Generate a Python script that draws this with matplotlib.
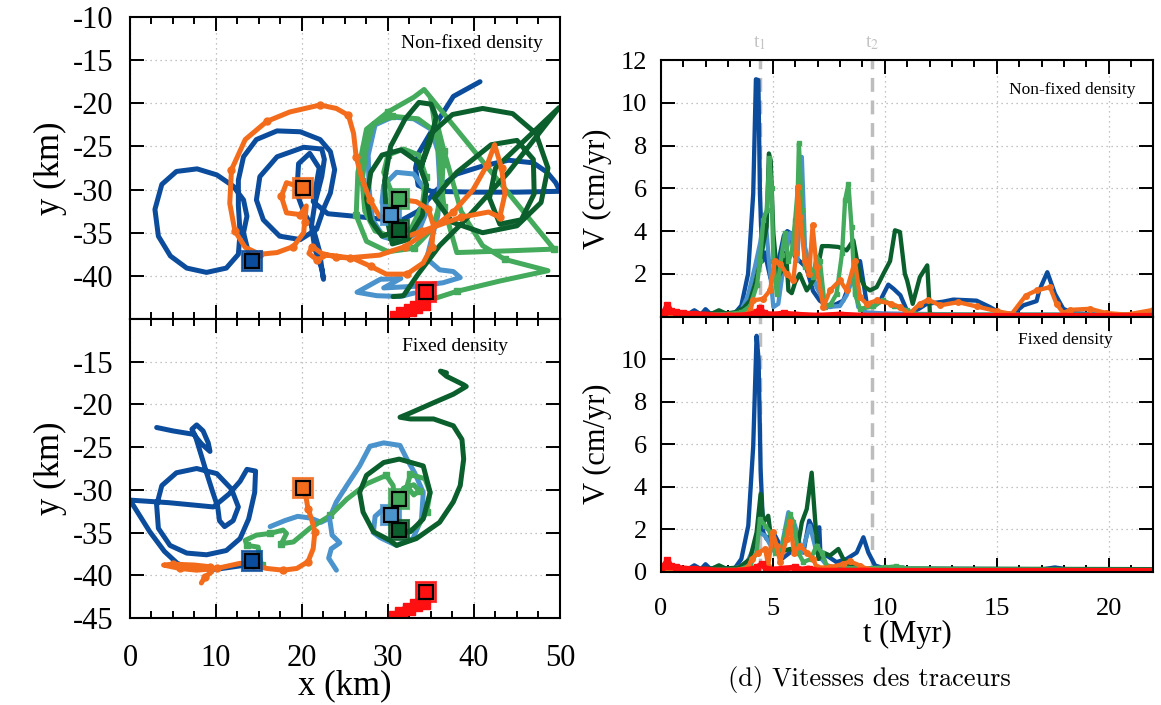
import matplotlib as mpl
import matplotlib.pyplot as plt
import numpy as np
from matplotlib.ticker import MultipleLocator, FixedLocator

mpl.rc('font', family='Liberation Serif', size=14)
mpl.rc('axes', unicode_minus=False)

# colours of the six tracers
c_db = '#0b4c9c'   # dark blue
c_lb = '#4a93cc'   # light blue
c_dg = '#0b5f2c'   # dark green
c_mg = '#44aa5c'   # medium green
c_or = '#f36c1c'   # orange
c_rd = '#ff1010'   # red

# initial positions (km)
start_x = [14.15, 30.3, 31.3, 31.3, 20.1, 34.4]
start_y = [-38.3, -32.9, -34.7, -31.1, -29.8, -41.9]
start_c = [c_db, c_lb, c_dg, c_mg, c_or, c_rd]

# ---- trajectories, non-fixed density ----
db_top = [(14.1,-38.3),(13.6,-36.6),(13.2,-35.0),(13.6,-33.1),(13.2,-31.2),(12.0,-29.6),(10.1,-28.3),(7.8,-27.6),
          (5.4,-27.9),(3.7,-29.4),(2.9,-32.3),(3.3,-35.4),(4.7,-37.7),(6.6,-39.1),(8.9,-39.6),(11.2,-39.1),
          (12.6,-37.5),(12.8,-35.0),(12.6,-31.9),(12.6,-28.9),(13.2,-26.2),(14.7,-24.2),(17.1,-23.2),(19.8,-23.3),
          (22.1,-24.2),(23.3,-25.6),(23.8,-27.7),(23.3,-30.4),(22.6,-32.0),(21.7,-34.6),(19.8,-35.8),(17.4,-35.4),
          (15.5,-33.5),(14.7,-31.2),(15.1,-28.5),(17.1,-26.2),(20.2,-25.1),(22.3,-25.3),(22.6,-26.5),(22.3,-28.5),
          (21.5,-31.6),(21.1,-34.2),(21.5,-36.9),(22.3,-39.2),(22.5,-40.4),(22.0,-37.0),(21.3,-34.5),(20.2,-32.6),
          (19.4,-30.4),(19.6,-27.0),(20.9,-25.8),(22.0,-27.5),(21.3,-31.4),(23.0,-32.8),(26.2,-33.1),(29.0,-33.4),
          (31.5,-33.6),(33.5,-32.5),(35.7,-30.0),(38.0,-28.2),(40.9,-27.3),(44.0,-26.6),(46.9,-26.9),(48.5,-28.0),
          (49.5,-29.2),(50.0,-30.2),(45.0,-30.3),(40.0,-30.3),(35.0,-30.2),(33.5,-29.5),(33.2,-27.5),(33.6,-25.7),
          (35.2,-23.0),(37.6,-19.2),(40.7,-17.5)]
or_top = [(20.1,-29.8),(18.2,-29.2),(17.6,-30.8),(18.2,-32.7),(19.8,-32.9),(20.5,-31.9),(20.3,-33.8),(20.2,-35.0),
          (19.0,-36.6),(17.1,-37.3),(15.1,-37.5),(13.4,-36.7),(12.2,-34.8),(11.6,-31.6),(11.8,-27.7),(13.4,-24.2),
          (15.9,-22.1),(18.6,-21.0),(22.1,-20.2),(24.0,-20.6),(25.4,-21.4),(26.0,-23.5),(26.3,-26.2),(26.9,-28.5),
          (27.9,-31.2),(29.0,-33.1),(30.2,-33.4),(30.8,-32.0),(31.8,-31.2),(33.3,-31.4),(34.7,-32.3),(35.3,-34.2),
          (35.1,-36.6),(34.1,-38.5),(32.2,-39.8),(29.8,-39.8),(28.0,-38.9),(26.0,-38.0),(24.0,-37.8),(22.3,-37.4),
          (21.2,-36.6),(20.8,-37.4),(21.8,-38.2),(22.8,-37.6),(25.6,-37.9),(29.0,-37.6),(32.0,-36.6),(35.0,-34.6),
          (37.6,-32.6),(39.9,-30.0),(41.5,-27.2),(42.4,-24.8),(43.2,-27.5),(43.6,-30.5),(43.0,-33.2),(41.7,-32.6),
          (38.5,-33.2),(35.7,-34.2),(34.0,-34.8),(32.6,-35.3)]
mg_top = [(31.3,-31.1),(30.3,-30.0),(29.5,-28.0),(30.0,-26.0),(31.8,-25.3),(33.6,-26.0),(34.4,-28.5),(34.0,-31.8),
          (32.7,-34.5),(30.5,-35.5),(28.5,-34.8),(27.3,-32.5),(27.0,-29.0),(27.5,-25.0),(28.3,-22.4),(30.5,-21.5),
          (33.5,-21.8),(35.8,-23.5),(36.4,-27.0),(36.2,-31.0),(35.2,-34.5),(33.0,-36.8),(30.0,-37.2),(27.5,-36.0),
          (26.3,-33.0),(26.5,-28.0),(27.5,-23.0),(30.0,-21.0),(33.0,-19.3),(34.2,-18.4),(49.3,-36.9),(44.0,-37.1),
          (38.0,-37.3),(36.5,-32.0),(35.8,-25.0),(35.0,-19.5),(36.5,-25.5),(38.5,-32.5),(41.0,-36.5),(43.6,-38.1),
          (48.6,-39.4),(43.0,-40.6),(38.0,-41.8),(35.5,-42.6),(34.8,-42.4)]
dg_top = [(31.3,-34.7),(29.3,-35.4),(28.0,-33.6),(27.5,-31.0),(28.0,-28.0),(29.3,-26.0),(31.5,-25.4),(33.5,-26.8),
          (34.5,-29.5),(34.0,-33.0),(32.3,-35.8),(30.5,-36.3),(29.8,-33.0),(29.6,-29.0),(30.3,-25.0),(32.0,-21.8),
          (33.6,-19.9),(35.0,-20.1),(35.6,-21.6),(34.9,-24.5),(33.8,-27.5),(35.0,-23.5),(37.5,-21.3),(41.0,-20.6),
          (44.5,-21.2),(47.2,-23.5),(48.6,-27.5),(47.8,-31.5),(45.0,-34.2),(41.0,-35.0),(37.5,-33.8),(35.4,-31.0),
          (38.0,-28.0),(42.0,-24.8),(45.0,-24.3),(46.9,-26.5),(47.0,-30.5),(45.5,-33.5),(43.0,-34.0),(41.8,-31.0),
          (42.5,-27.5),(49.9,-20.5),(44.0,-28.0),(39.0,-33.5),(36.0,-36.5),(33.5,-39.8),(31.8,-42.3),(30.6,-42.4)]
lb_top = [(30.3,-32.9),(29.3,-31.5),(29.5,-29.5),(31.0,-28.0),(33.0,-28.2),(34.3,-30.0),(34.5,-32.5),(33.5,-35.0),
          (31.5,-36.0),(29.5,-35.5),(28.2,-33.5),(27.8,-30.0),(27.7,-26.0),(28.5,-22.5),(30.5,-21.6),(33.0,-21.8),
          (35.0,-23.0),(35.8,-25.5),(36.0,-29.0),(35.8,-33.0),(35.0,-36.0),(34.5,-38.0),(36.0,-39.3),(37.6,-39.5),
          (38.4,-40.2),(36.4,-40.8),(33.3,-41.2),(29.5,-41.4),(31.5,-40.3),(29.1,-40.4),(26.4,-41.9),(28.7,-42.3),
          (31.4,-42.4),(33.0,-42.0)]
rd_top = [(34.4,-41.9),(34.2,-43.3),(33.2,-43.6),(32.6,-44.0),(31.6,-44.3),(30.9,-44.8)]

# ---- trajectories, fixed density ----
db_bot = [(14.15,-38.3),(12.8,-38.9),(10.0,-39.3),(7.0,-39.2),(5.5,-38.6),(4.0,-37.2),(2.3,-34.9),(0.0,-31.2),
          (4.5,-31.5),(9.7,-32.0),(11.5,-30.5),(12.8,-29.0),(13.6,-27.6),(14.6,-27.8),(14.5,-30.3),(13.8,-33.4),
          (12.8,-35.7),(11.2,-37.1),(8.9,-37.6),(6.6,-37.4),(4.65,-36.5),(3.3,-34.5),(3.1,-31.8),(3.7,-29.5),
          (5.4,-28.0),(7.75,-27.5),(10.1,-28.1),(11.8,-29.9),(12.6,-32.0),(12.0,-33.6),(11.0,-34.3),(10.4,-33.6),
          (10.2,-32.0),(9.6,-30.2),(8.9,-28.0),(8.3,-26.0),(7.6,-23.7),(7.2,-22.9),(7.75,-22.4),(8.5,-23.1),
          (9.1,-24.5),(9.3,-25.5),(8.3,-24.6),(7.4,-23.5),(5.0,-23.1),(3.1,-22.7)]
or_bot = [(20.1,-29.8),(20.5,-31.05),(20.7,-32.2),(21.1,-33.4),(21.5,-34.9),(21.3,-36.9),(20.7,-38.4),(19.4,-39.2),
          (17.8,-39.4),(15.9,-39.2),(14.3,-38.8),(12.8,-38.6),(10.1,-39.2),(7.75,-39.4),(5.8,-39.2),(3.9,-38.8),
          (5.0,-38.7),(7.5,-38.8),(9.3,-39.0),(9.5,-39.6),(8.7,-40.2),(8.3,-40.9)]
mg_bot = [(31.3,-31.1),(31.8,-29.8),(33.0,-29.4),(33.6,-30.1),(33.0,-30.6),(32.2,-29.6),(32.6,-28.2),(34.3,-28.7),
          (34.9,-30.3),(34.5,-32.6),(33.5,-34.2),(32.2,-35.0),(31.2,-34.4),(30.8,-32.0),(30.6,-29.5),(29.8,-28.3),
          (27.5,-29.3),(25.2,-31.1),(23.3,-33.0),(20.9,-34.5),(19.0,-36.1),(17.6,-36.3),(18.2,-35.1),(17.8,-34.7),
          (16.3,-35.1),(14.7,-35.3),(13.4,-35.9),(13.6,-36.5),(14.9,-36.7),(15.1,-38.0),(15.3,-38.8)]
lb_bot = [(16.3,-34.3),(18.0,-33.6),(19.5,-33.1),(21.0,-33.3),(22.2,-33.8),(23.2,-33.3),(24.0,-31.4),(25.2,-29.5),
          (26.7,-27.2),(27.9,-24.9),(29.5,-24.5),(31.4,-24.8),(32.2,-26.4),(33.1,-28.0),(34.1,-30.3),(33.9,-33.4),
          (32.9,-35.7),(31.0,-36.5),(29.1,-35.6),(28.3,-35.0),(28.5,-33.1),(29.5,-32.2),(30.3,-32.9)]
lb_bot_tail = [(23.2,-33.3),(23.5,-35.3),(24.4,-36.2),(23.4,-36.9),(23.1,-38.0),(24.0,-39.4)]
dg_bot = [(31.3,-34.7),(32.6,-34.9),(34.1,-33.4),(34.9,-30.3),(34.1,-27.2),(31.3,-26.4),(29.5,-26.8),(27.5,-28.3),
          (26.7,-30.3),(27.1,-32.6),(28.3,-34.9),(30.2,-35.9),(31.0,-36.5),(33.3,-35.7),(36.0,-33.8),(37.6,-31.4),
          (38.4,-29.5),(38.8,-26.4),(38.6,-24.1),(37.6,-22.5),(35.3,-21.7),(32.6,-21.7),(31.4,-21.5),(32.6,-21.0),
          (35.3,-19.8),(37.6,-18.8),(39.1,-17.9),(38.8,-17.7),(37.6,-17.1),(36.8,-16.7),(36.1,-16.1),(36.8,-16.3)]
rd_bot = [(34.4,-41.9),(34.2,-43.2),(33.3,-43.5),(32.5,-43.9),(31.5,-44.4),(30.8,-44.9)]

# ---- velocities, non-fixed density (t in Myr, V in cm/yr) ----
t_db1 = [0,1.2,1.5,1.8,2.0,2.2,2.6,3.0,3.3,3.6,3.9,4.13,4.25,4.36,4.43,4.54,4.66,4.75,4.9,5.1,5.3,5.5,5.65,5.8,6.0,
         6.2,6.5,6.8,7.1,7.56,8.15,8.6,8.9,9.2,9.5,9.8,10.16,10.4,10.7,11.05,11.5,11.87,12.6,13.06,14.1,14.7,15.15,
         15.74,16.19,16.78,16.9,17.26,17.6,17.97,18.4,19.5,22]
v_db1 = [0.1,0.1,0.3,0.1,0.35,0.15,0.2,0.15,0.15,0.52,2.0,5.75,11.1,11.06,5.75,2.6,3.0,2.5,1.8,2.0,2.8,3.8,4.0,3.9,2.8,
         2.6,2.3,1.2,0.75,0.45,0.75,2.0,2.6,0.6,0.45,0.75,1.5,1.3,1.0,0.15,0.35,0.6,0.7,0.8,0.75,0.45,0.17,
         0.13,0.53,0.73,1.23,2.08,1.07,0.37,0.17,0.1,0.1]
t_lb1 = [0,2.0,3.0,3.6,3.9,4.2,4.45,4.66,4.8,5.03,5.25,5.5,5.77,5.95,6.1,6.3,6.44,6.7,6.96,7.41,8.0,8.3,8.6,8.82,9.2,10,14,22]
v_lb1 = [0.08,0.1,0.12,0.3,1.0,2.3,3.5,4.8,3.0,0.45,0.6,2.5,3.9,3.5,2.6,7.47,3.26,2.2,1.38,0.45,0.5,1.0,1.85,0.45,0.2,0.15,0.1,0.1]
t_dg1 = [0,1.5,2.3,2.6,2.9,3.3,3.7,3.99,4.2,4.43,4.6,4.73,4.83,4.91,5.03,5.15,5.25,5.47,5.6,5.7,5.85,6.0,6.2,6.52,6.7,
         6.96,7.2,7.5,7.93,8.3,8.6,8.9,9.12,9.34,9.64,9.94,10.24,10.46,10.68,10.9,11.0,11.25,11.57,11.9,12.02,12.2,22]
v_dg1 = [0.1,0.12,0.15,0.3,0.15,0.2,0.4,0.76,1.5,2.48,3.5,4.2,7.63,7.3,3.9,2.5,1.85,2.3,3.0,1.23,1.1,1.6,2.0,1.23,1.5,
         2.0,3.3,3.3,3.26,3.1,3.57,1.85,1.38,1.23,1.38,2.0,2.6,4.04,3.96,2.0,1.7,0.6,1.85,2.4,0.13,0.05,0.05]
t_mg1 = [0,2.0,3.0,3.6,4.0,4.3,4.43,4.58,4.73,4.85,4.95,5.03,5.18,5.4,5.55,5.7,5.85,6.0,6.12,6.17,6.3,6.44,6.6,6.81,
         6.95,7.11,7.33,7.6,7.85,8.1,8.23,8.38,8.52,8.67,8.9,9.49,9.94,10.4,10.98,11.5,22]
v_mg1 = [0.08,0.1,0.12,0.2,0.5,1.5,2.6,4.5,4.97,7.4,6.0,2.6,1.07,2.9,3.9,2.6,3.0,4.5,6.0,8.1,5.0,2.3,2.5,1.85,
         2.8,2.6,0.45,0.6,1.07,3.0,5.44,6.2,4.2,1.07,0.37,0.48,0.76,0.52,0.3,0.1,0.08]
t_or1 = [0,1.0,2.0,3.0,3.8,3.99,4.13,4.58,4.88,5.1,5.33,5.62,5.92,6.05,6.11,6.22,6.44,6.63,6.78,6.96,7.26,7.56,8.0,
         8.3,8.67,8.9,9.2,9.64,10.3,10.68,11.1,11.57,11.95,12.47,13.28,14.1,15.0,15.67,16.3,16.78,17.38,17.67,17.97,
         18.27,19.16,19.9,20.8,22]
v_or1 = [0.05,0.06,0.06,0.08,0.1,0.3,0.76,0.84,1.23,2.6,2.48,2.0,1.7,3.0,6.07,4.66,2.6,2.0,4.27,2.3,0.45,1.23,1.7,
         1.23,2.6,0.9,0.6,0.76,0.6,0.45,0.13,0.6,0.79,0.53,0.68,0.48,0.26,0.13,0.99,1.23,1.38,0.6,0.17,
         0.32,0.37,0.17,0.1,0.32]
t_rd1 = [0,0.15,0.3,0.45,0.7,1.0,1.5,2.0,2.5,3.0,3.5,4.0,4.3,4.45,4.6,5.0,5.5,6.0,7.0,8.0,9.0,10,12,14,16,18,20,22]
v_rd1 = [0.1,0.2,0.55,0.25,0.2,0.15,0.12,0.1,0.05,0.05,0.05,0.1,0.2,0.4,0.15,0.1,0.15,0.1,0.05,0.1,0.05,0.05,0.04,
         0.04,0.04,0.04,0.04,0.04]

# ---- velocities, fixed density ----
t_db2 = [0,1.2,1.5,1.8,2.0,2.2,2.6,3.0,3.3,3.6,3.91,4.13,4.28,4.37,4.46,4.58,4.73,5.03,5.25,5.4,5.77,6.07,6.37,6.63,
         6.89,7.08,7.14,7.41,7.85,8.3,8.75,9.05,9.27,9.57,10.0,10.5,10.8,11.1,12,17.0,17.6,18.2,22]
v_db2 = [0.1,0.1,0.3,0.12,0.35,0.15,0.2,0.15,0.15,0.6,2.17,5.9,11.1,9.97,4.82,1.85,1.54,1.85,1.4,0.6,0.9,1.07,0.9,2.4,
         1.85,2.09,0.6,0.76,0.45,0.6,0.9,1.62,0.9,0.29,0.15,0.1,0.2,0.1,0.08,0.1,0.2,0.1,0.08]
t_lb2 = [0,3.0,3.8,4.1,4.36,4.66,5.03,5.4,5.7,6.0,6.3,6.66,6.96,7.41,8,22]
v_lb2 = [0.08,0.1,0.3,1.0,1.85,1.7,1.0,1.2,2.8,2.17,0.9,2.17,0.9,0.3,0.15,0.1]
t_dg2 = [0,2.3,2.6,2.9,3.5,3.99,4.28,4.46,4.58,4.8,4.95,5.25,5.77,6.07,6.3,6.52,6.74,6.89,7.04,7.26,7.56,7.93,8.15,
         8.45,9.0,22]
v_dg2 = [0.1,0.15,0.3,0.15,0.2,0.6,1.85,3.65,2.32,2.63,1.4,0.9,1.07,0.9,2.32,2.95,4.66,2.48,0.6,0.9,0.76,1.07,0.6,
         0.29,0.15,0.12]
t_mg2 = [0,3.5,4.0,4.28,4.43,4.66,4.88,5.1,5.4,5.62,5.77,5.92,6.14,6.37,6.7,6.96,7.19,7.41,7.7,9,10,10.5,11,13,22]
v_mg2 = [0.08,0.1,0.3,0.9,2.48,2.17,1.85,0.9,1.07,2.17,2.71,2.32,0.9,0.45,0.6,1.23,0.9,0.29,0.2,0.15,0.2,0.25,0.15,
         0.12,0.08]
t_or2 = [0,3.5,3.9,4.06,4.36,4.66,4.8,5.0,5.18,5.33,5.62,5.77,5.95,6.22,6.52,6.81,6.96,7.56,8.15,8.45,8.9,9.2,10,22]
v_or2 = [0.05,0.06,0.2,0.6,0.9,1.07,0.29,1.85,1.23,0.45,1.54,2.32,0.9,1.23,0.9,0.6,0.2,0.2,0.37,0.48,0.29,0.13,
         0.05,0.05]
t_rd2 = [0,0.15,0.3,0.45,0.7,1.0,1.5,2.0,2.5,3.5,4.0,4.3,4.5,4.7,5.0,5.5,6.0,6.3,6.6,7.0,8,9,10,22]
v_rd2 = [0.1,0.25,0.55,0.25,0.2,0.15,0.12,0.1,0.05,0.05,0.1,0.2,0.35,0.15,0.1,0.15,0.2,0.1,0.15,0.05,0.05,0.05,
         0.04,0.04]

t_marks = [4.42, 9.43]
t_names = ['t$_1$', 't$_2$']

# ------------------------------------------------------------------
fig = plt.figure(figsize=(11.61, 7.05), dpi=100)
ax_tl = fig.add_axes([0.11197, 0.54752, 0.37037, 0.42837])
ax_bl = fig.add_axes([0.11197, 0.12340, 0.37037, 0.42411])
ax_tr = fig.add_axes([0.56908, 0.55078, 0.42446, 0.36411])
ax_br = fig.add_axes([0.56908, 0.18908, 0.42446, 0.36170])

grid_kw = dict(color='#b0b0b0', lw=0.9, ls=(0, (1, 3)))

def style(ax, labelsize, xpad, ypad):
    ax.tick_params(which='both', direction='in', top=True, right=True, width=1.4)
    ax.tick_params(which='major', length=10, labelsize=labelsize)
    ax.tick_params(which='minor', length=5)
    ax.tick_params(axis='x', pad=xpad)
    ax.tick_params(axis='y', pad=ypad)
    for s in ax.spines.values():
        s.set_linewidth(1.5)
    ax.grid(True, which='major', **grid_kw)
    ax.set_axisbelow(True)

def path(ax, pts, c, lw=3.6, **kw):
    xs, ys = zip(*pts)
    ax.plot(xs, ys, color=c, lw=lw, solid_capstyle='round', solid_joinstyle='round', **kw)

traj = [(ax_tl, db_top, or_top, mg_top, dg_top, lb_top, rd_top, 'Non-fixed density', 48, -13.0),
        (ax_bl, db_bot, or_bot, mg_bot, dg_bot, lb_bot, rd_bot, 'Fixed density', 44, -13.2)]
for ax, db, orr, mg, dg, lb, rd, name, tx, ty in traj:
    path(ax, db, c_db)
    path(ax, lb, c_lb)
    path(ax, mg, c_mg, marker='s', ms=4.5, markevery=3)
    path(ax, dg, c_dg)
    path(ax, orr, c_or, marker='o', ms=5, markevery=2)
    path(ax, rd, c_rd, lw=7, marker='s', ms=8)
    ax.set(xlim=(0, 50), ylim=(-45, -10))
    ax.xaxis.set_major_locator(MultipleLocator(10))
    ax.xaxis.set_minor_locator(MultipleLocator(2.5))
    style(ax, 22, 19, 12)
    ax.set_ylabel('y (km)', fontsize=25, labelpad=4)
    ax.text(tx, ty, name, ha='right', va='center', fontsize=14)
    for sx, sy, sc in zip(start_x, start_y, start_c):
        ax.plot(sx, sy, 's', ms=14, mfc=sc, mec=sc, mew=1.5, alpha=0.8, zorder=5)
        ax.plot(sx, sy, 's', ms=10.5, mfc=sc, mec='k', mew=1.6, zorder=6)
path(ax_bl, lb_bot_tail, c_lb)

ax_tl.yaxis.set_major_locator(FixedLocator([-40, -35, -30, -25, -20, -15, -10]))
ax_bl.yaxis.set_major_locator(FixedLocator([-45, -40, -35, -30, -25, -20, -15]))
ax_tl.tick_params(axis='x', labelbottom=False)
ax_bl.set_xlabel('x (km)', fontsize=25, labelpad=-3)

vel = [(ax_tr, t_db1, v_db1, t_lb1, v_lb1, t_dg1, v_dg1, t_mg1, v_mg1, t_or1, v_or1, t_rd1, v_rd1,
        'Non-fixed density', 10.6, 21.2),
       (ax_br, t_db2, v_db2, t_lb2, v_lb2, t_dg2, v_dg2, t_mg2, v_mg2, t_or2, v_or2, t_rd2, v_rd2,
        'Fixed density', 10.9, 20.2)]
for (ax, tdb, vdb, tlb, vlb, tdg, vdg, tmg, vmg, tor, vor, trd, vrd, name, ty, tx) in vel:
    for tm in t_marks:
        ax.axvline(tm, color='#bdbdbd', lw=2.5, ls=(0, (4, 2.5)), zorder=1)
    ax.plot(tdb, vdb, color=c_db, lw=3.1)
    ax.plot(tlb, vlb, color=c_lb, lw=3.1)
    ax.plot(tdg, vdg, color=c_dg, lw=3.1)
    ax.plot(tmg, vmg, color=c_mg, lw=3.1, marker='s', ms=3.5)
    ax.plot(tor, vor, color=c_or, lw=3.1, marker='o', ms=4)
    ax.plot(trd, vrd, color=c_rd, lw=4.2, marker='s', ms=4)
    ax.set(xlim=(0, 22), ylim=(0, 12))
    ax.xaxis.set_major_locator(MultipleLocator(5))
    ax.xaxis.set_minor_locator(MultipleLocator(1))
    style(ax, 19, 19, 10)
    ax.set_ylabel('V (cm/yr)', fontsize=22, labelpad=6)
    ax.text(tx, ty, name, ha='right', va='center', fontsize=12.5)

ax_tr.yaxis.set_major_locator(FixedLocator([2, 4, 6, 8, 10, 12]))
ax_br.yaxis.set_major_locator(FixedLocator([0, 2, 4, 6, 8, 10]))
ax_tr.tick_params(axis='x', labelbottom=False)
ax_br.set_xlabel('t (Myr)', fontsize=22, labelpad=0)

for tm, nm in zip(t_marks, t_names):
    ax_tr.text(tm, 1.065, nm, transform=ax_tr.get_xaxis_transform(), ha='center', va='center',
               color='#c4c4c4', fontsize=14, math_fontfamily='stix')

fig.text(0.7485, 0.0355, '(d) Vitesses des traceurs', ha='center', va='center',
         family='cmr10', fontsize=19)

fig.savefig('out.png', dpi=100)
